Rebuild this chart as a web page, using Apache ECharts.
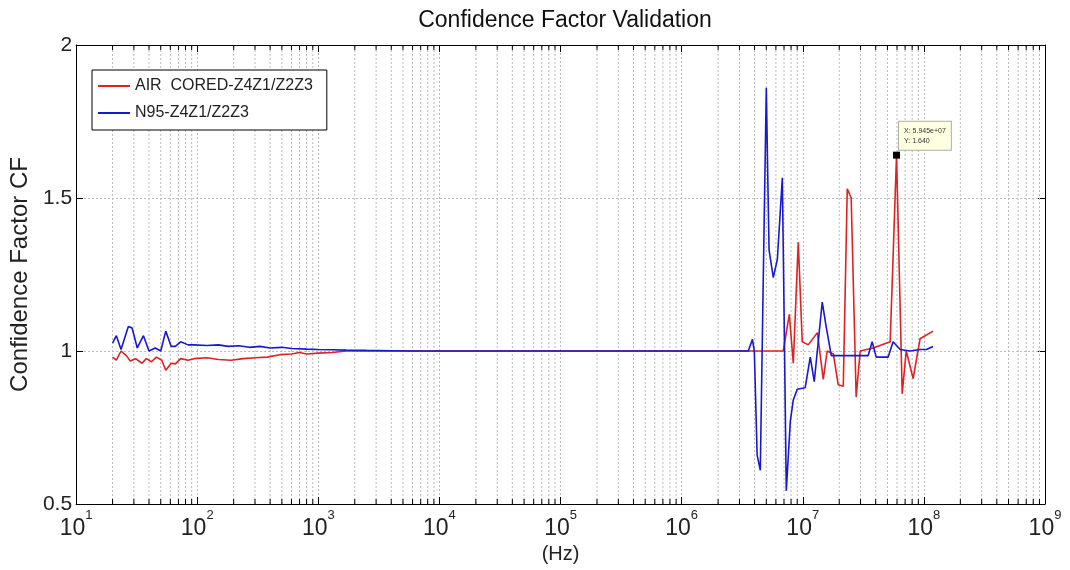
<!DOCTYPE html>
<html><head><meta charset="utf-8">
<script src="https://cdn.jsdelivr.net/npm/echarts@6/dist/echarts.min.js"></script>
<style>html,body{margin:0;padding:0;background:#fff}#c{width:1070px;height:570px}</style>
</head><body><div id="c"></div><script>
// ---- data ----
const seriesNames = ['AIR  CORED-Z4Z1/Z2Z3', 'N95-Z4Z1/Z2Z3'];
const freqRed = [20, 21.5, 23.5, 26, 28, 31, 35, 38, 42, 46, 51, 55, 61, 66, 73, 84, 94, 120, 150, 190,
  240, 300, 380, 480, 600, 700, 800, 1000, 1300, 1700, 2500, 5000, 1e4, 1e5, 1e6, 3e6, 6.9e6, 7.74e6, 8.35e6, 9.18e6,
  9.9e6, 1.11e7, 1.32e7, 1.476e7, 1.59e7, 1.79e7, 1.96e7, 2.16e7, 2.33e7, 2.51e7,
  2.76e7, 2.98e7, 3.81e7, 5.27e7, 5.945e7, 6.62e7, 7.15e7, 8.15e7, 9.3e7, 1.19e8];
const cfRed = [0.98, 0.97, 1.0, 0.985, 0.967, 0.975, 0.96, 0.975, 0.965, 0.98, 0.97, 0.937, 0.96, 0.958, 0.975, 0.97, 0.975, 0.978, 0.972, 0.97,
  0.975, 0.978, 0.98, 0.988, 0.99, 0.995, 0.99, 0.993, 0.995, 1.0, 1.0, 1.0, 1.0, 1.0, 1.0, 1.0, 1.0, 1.12, 0.96, 1.355,
  1.03, 1.02, 1.06, 0.907, 1.0, 0.99, 0.89, 0.885, 1.53, 1.50,
  0.85, 1.0, 1.01, 1.03, 1.64, 0.86, 1.0, 0.91, 1.04, 1.065];
const freqBlue = [20, 21.5, 23.5, 27, 29, 32, 36, 40, 45, 50, 55, 61, 66, 73, 84, 94, 120, 150, 180, 220,
  270, 330, 400, 500, 600, 800, 1000, 1300, 1700, 2500, 4000, 6000, 1e4, 1e5, 1e6, 3.55e6, 3.84e6, 3.98e6, 4.2e6, 4.46e6,
  4.72e6, 5.0e6, 5.15e6, 5.27e6, 5.71e6, 6.17e6, 6.78e6, 6.97e6, 7.31e6, 7.89e6,
  8.35e6, 9.0e6, 1.047e7, 1.153e7, 1.244e7, 1.448e7, 1.56e7, 1.72e7, 3.47e7, 3.74e7,
  4.04e7, 5.07e7, 5.57e7, 6.37e7, 7.7e7, 9.3e7, 1.05e8, 1.19e8];
const cfBlue = [1.026, 1.05, 1.005, 1.08, 1.075, 1.01, 1.05, 1.0, 1.01, 1.0, 1.065, 1.015, 1.015, 1.03, 1.02, 1.02, 1.018, 1.02, 1.015, 1.017,
  1.012, 1.015, 1.01, 1.012, 1.008, 1.006, 1.005, 1.004, 1.003, 1.002, 1.001, 1.0, 1.0, 1.0, 1.0, 1.0, 1.038, 1.0, 0.66, 0.61,
  1.24, 1.86, 1.55, 1.33, 1.24, 1.30, 1.566, 1.2, 0.543, 0.77,
  0.84, 0.875, 0.88, 0.98, 0.90, 1.16, 1.08, 0.985, 0.985, 1.03,
  0.98, 0.98, 1.03, 1.005, 1.0, 1.005, 1.005, 1.015];
const tipX = 5.945e7, tipY = 1.64;
const tipText = 'X: 5.945e+07\nY: 1.640';
const X_MIN = 10, X_MAX = 1e9, Y_MIN = 0.5, Y_MAX = 2, Y_STEP = 0.5;

// ---- chart ----
const FONT = '"Liberation Sans", Arial, Helvetica, sans-serif';
const minorFreqs = [];
for (let d = 1; d < 9; d++) for (let m = 2; m <= 9; m++) minorFreqs.push([m * Math.pow(10, d), Y_MIN]);
const chart = echarts.init(document.getElementById('c'), null, {renderer: 'canvas'});
const axisCommonX = {type: 'log', logBase: 10, min: X_MIN, max: X_MAX, splitNumber: 8};
chart.setOption({
  animation: false,
  backgroundColor: '#fff',
  title: {text: 'Confidence Factor Validation', left: 560, top: 4, textAlign: 'center',
    textStyle: {fontSize: 23, fontWeight: 'normal', color: '#111', fontFamily: FONT}},
  grid: {left: 75, right: 25, top: 45, bottom: 66, show: false},
  legend: {left: 92, top: 70, orient: 'vertical', data: seriesNames, icon: 'rect', itemWidth: 32, itemHeight: 2,
    itemGap: 11, padding: [8, 14, 9, 6], backgroundColor: '#fff', borderColor: '#000', borderWidth: 1,
    selectedMode: false, textStyle: {fontSize: 16, fontFamily: FONT, color: '#222'}},
  xAxis: [
    Object.assign({}, axisCommonX, {position: 'bottom',
      axisLine: {show: true, lineStyle: {color: '#000', width: 1}},
      axisTick: {show: true, inside: true, length: 7, lineStyle: {color: '#000'}},
      splitLine: {show: true, lineStyle: {color: '#bbb', type: [2, 2]}},
      axisLabel: {margin: 5, showMinLabel: true, showMaxLabel: true,
        formatter: v => '{b|10}{s|' + Math.round(Math.log10(v)) + '}',
        rich: {b: {fontSize: 23, fontFamily: FONT, color: '#222', lineHeight: 31, verticalAlign: 'bottom'},
               s: {fontSize: 13, fontFamily: FONT, color: '#222', verticalAlign: 'top', lineHeight: 14}}},
      name: '(Hz)', nameLocation: 'middle', nameGap: 36,
      nameTextStyle: {fontSize: 20, fontFamily: FONT, color: '#222'}}),
    Object.assign({}, axisCommonX, {position: 'top',
      axisLine: {show: true, lineStyle: {color: '#000', width: 1}},
      axisTick: {show: true, inside: true, length: 7, lineStyle: {color: '#000'}},
      splitLine: {show: false}, axisLabel: {show: false}})
  ],
  yAxis: [
    {type: 'value', min: Y_MIN, max: Y_MAX, interval: Y_STEP, position: 'left',
      axisLine: {show: true, lineStyle: {color: '#000', width: 1}},
      axisTick: {show: true, inside: true, length: 7, lineStyle: {color: '#000'}},
      splitLine: {show: true, lineStyle: {color: '#bbb', type: [2, 2]}},
      axisLabel: {fontSize: 21, fontFamily: FONT, color: '#222', margin: 4},
      name: 'Confidence Factor CF', nameLocation: 'middle', nameGap: 42, nameRotate: 90,
      nameTextStyle: {fontSize: 24, fontFamily: FONT, color: '#222'}},
    {type: 'value', min: Y_MIN, max: Y_MAX, interval: Y_STEP, position: 'right',
      axisLine: {show: true, lineStyle: {color: '#000', width: 1}},
      axisTick: {show: true, inside: true, length: 7, lineStyle: {color: '#000'}},
      splitLine: {show: false}, axisLabel: {show: false}}
  ],
  series: [
    {type: 'custom', name: 'minor', xAxisIndex: 0, yAxisIndex: 0, silent: true, z: 1,
      data: minorFreqs, encode: {x: 0, y: 1},
      renderItem: (params, api) => {
        const f = api.value(0);
        const b = api.coord([f, Y_MIN]), t = api.coord([f, Y_MAX]);
        return {type: 'group', children: [
          {type: 'line', shape: {x1: b[0], y1: b[1], x2: t[0], y2: t[1]}, style: {stroke: '#bbb', lineWidth: 1, lineDash: [2, 2]}},
          {type: 'line', shape: {x1: b[0], y1: b[1], x2: b[0], y2: b[1] - 5}, style: {stroke: '#000', lineWidth: 1}},
          {type: 'line', shape: {x1: t[0], y1: t[1], x2: t[0], y2: t[1] + 5}, style: {stroke: '#000', lineWidth: 1}}
        ]};
      }},
    {type: 'line', name: seriesNames[0], data: freqRed.map((f, i) => [f, cfRed[i]]),
      showSymbol: false, symbol: 'none', color: '#dd2222', lineStyle: {width: 1.6, color: '#dd2222'}, z: 3,
      markPoint: {symbol: 'rect', symbolSize: 7, silent: true, itemStyle: {color: '#000'},
        data: [{coord: [tipX, tipY]}],
        label: {show: true, formatter: tipText, position: [6, -30], fontSize: 7, lineHeight: 10, color: '#333',
          fontFamily: FONT, backgroundColor: '#ffffe1', borderColor: '#b0b0a0', borderWidth: 1, padding: [4, 5, 4, 5]}}},
    {type: 'line', name: seriesNames[1], data: freqBlue.map((f, i) => [f, cfBlue[i]]),
      showSymbol: false, symbol: 'none', color: '#1818cc', lineStyle: {width: 1.6, color: '#1818cc'}, z: 4}
  ]
});
</script></body></html>
